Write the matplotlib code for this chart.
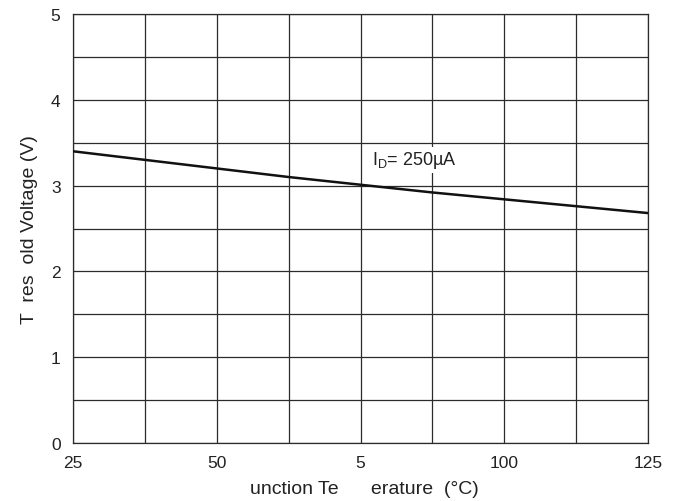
import numpy as np
import matplotlib
matplotlib.use("Agg")
import matplotlib.pyplot as plt

plt.rcParams.update({
    "font.family": ["Liberation Sans", "DejaVu Sans"],
    "font.size": 12,
})

# Data
temp_c = [25, 37.5, 50, 62.5, 75, 87.5, 100, 112.5, 125]
vth_v = [3.40, 3.30, 3.20, 3.10, 3.01, 2.92, 2.84, 2.76, 2.68]

x_ticks = [25, 50, 75, 100, 125]
x_ticklabels = ["25", "50", "5", "100", "125"]
y_ticks = [0, 1, 2, 3, 4, 5]

fig = plt.figure(figsize=(6.82, 5.02), dpi=100)
ax = fig.add_axes([73 / 682, 58 / 502, 575 / 682, 429 / 502])

# grid every 12.5 degC and 0.5 V
for gx in np.arange(25, 125.1, 12.5):
    ax.axvline(gx, color="#2b2b2b", lw=0.9, zorder=1)
for gy in np.arange(0, 5.01, 0.5):
    ax.axhline(gy, color="#2b2b2b", lw=0.9, zorder=1)

ax.plot(temp_c, vth_v, color="#111111", lw=1.8, zorder=3)

ax.text(77.0, 3.30, r"I$_\mathregular{D}$= 250µA", fontsize=13,
        va="center", ha="left", color="#222222", zorder=4,
        bbox=dict(facecolor="white", edgecolor="none", pad=2))

ax.set_xlim(25, 125)
ax.set_ylim(0, 5)
ax.set_xticks(x_ticks)
ax.set_xticklabels(x_ticklabels)
ax.set_yticks(y_ticks)
ax.tick_params(length=0, pad=9, labelsize=12.5, colors="#222222")
for s in ax.spines.values():
    s.set_color("#2b2b2b")
    s.set_linewidth(0.9)

ax.set_xlabel("unction Te      erature  (°C)", fontsize=14, color="#222222")
ax.xaxis.set_label_coords(0.507, -0.087)
ax.set_ylabel("T  res  old Voltage (V)", fontsize=14, color="#222222", labelpad=9)

fig.savefig("out.png", dpi=100)
